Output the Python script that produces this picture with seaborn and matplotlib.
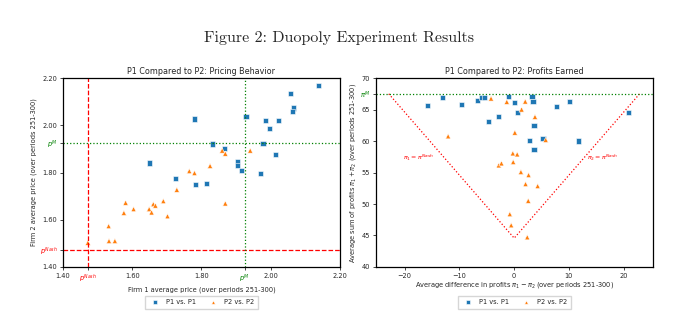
import numpy as np
import pandas as pd
import matplotlib
matplotlib.use("Agg")
import matplotlib.pyplot as plt
import seaborn as sns

# ---- data ----
p_nash = 1.4729
p_mon = 1.9249
pi_nash_sum = 44.58
pi_mon_sum = 67.5

p1p1_price_f1 = [2.138, 2.058, 2.065, 2.063, 2.023, 1.986, 1.996, 1.929, 1.780, 1.978, 2.013,
                 1.832, 1.867, 1.905, 1.905, 1.916, 1.971, 1.650, 1.726, 1.784, 1.815]
p1p1_price_f2 = [2.169, 2.135, 2.073, 2.057, 2.022, 2.022, 1.986, 2.036, 2.027, 1.924, 1.877,
                 1.921, 1.901, 1.846, 1.830, 1.808, 1.795, 1.840, 1.774, 1.750, 1.754]
p2p2_price_f1 = [1.472, 1.532, 1.533, 1.550, 1.576, 1.581, 1.604, 1.649, 1.656, 1.661, 1.667,
                 1.690, 1.702, 1.729, 1.765, 1.780, 1.825, 1.860, 1.869, 1.869, 1.941]
p2p2_price_f2 = [1.503, 1.573, 1.510, 1.510, 1.629, 1.672, 1.645, 1.645, 1.631, 1.666, 1.660,
                 1.679, 1.615, 1.727, 1.806, 1.798, 1.828, 1.893, 1.880, 1.669, 1.893]

p1p1_diff = [-15.87, -13.11, -9.62, -6.68, -5.94, -5.45, -4.72, -2.82, -0.98, 0.0, 0.61,
             3.25, 3.43, 3.61, 2.76, 3.61, 5.27, 7.66, 10.05, 11.76, 20.83]
p1p1_sum = [65.59, 66.87, 65.80, 66.44, 66.92, 66.92, 63.10, 63.84, 67.03, 66.18, 64.53,
            67.08, 66.28, 62.51, 60.07, 58.69, 60.39, 65.43, 66.28, 60.02, 64.48]
p2p2_diff = [-12.07, -4.23, -2.82, -2.33, -1.35, 2.02, 1.35, 3.80, 0.12, -0.25, 0.55,
             -0.18, 1.23, 2.63, 2.08, 4.29, 2.57, -0.80, -0.55, 2.39, 5.76]
p2p2_sum = [60.76, 66.76, 56.14, 56.46, 66.23, 66.28, 65.01, 63.84, 61.34, 58.05, 57.89,
            56.67, 55.08, 54.60, 53.17, 52.85, 50.51, 48.39, 46.63, 44.72, 60.18]

groups = ["P1 vs. P1", "P2 vs. P2"]

df_price = pd.DataFrame({
    "f1": p1p1_price_f1 + p2p2_price_f1,
    "f2": p1p1_price_f2 + p2p2_price_f2,
    "group": [groups[0]] * len(p1p1_price_f1) + [groups[1]] * len(p2p2_price_f1),
})
df_profit = pd.DataFrame({
    "diff": p1p1_diff + p2p2_diff,
    "sum": p1p1_sum + p2p2_sum,
    "group": [groups[0]] * len(p1p1_diff) + [groups[1]] * len(p2p2_diff),
})

sns.set_style("ticks")
plt.rcParams["font.family"] = ["DejaVu Sans"]

fig = plt.figure(figsize=(6.77, 3.24), dpi=100)
ax1 = fig.add_axes([0.093, 0.176, 0.409, 0.583])
ax2 = fig.add_axes([0.555, 0.176, 0.409, 0.583])

palette = {groups[0]: "#1f77b4", groups[1]: "#ff7f0e"}
markers = {groups[0]: "s", groups[1]: "^"}
fs = 4.8

# ---- left: pricing ----
sns.scatterplot(data=df_price, x="f1", y="f2", hue="group", style="group",
                palette=palette, markers=markers, s=14, edgecolor="white",
                linewidth=0.4, ax=ax1)
ax1.axvline(p_nash, color="red", ls="--", lw=0.9)
ax1.axhline(p_nash, color="red", ls="--", lw=0.9)
ax1.axvline(p_mon, color="green", ls=":", lw=0.9)
ax1.axhline(p_mon, color="green", ls=":", lw=0.9)
ax1.set_xlim(1.40, 2.20)
ax1.set_ylim(1.40, 2.20)
ticks = [1.40, p_nash, 1.60, 1.80, p_mon, 2.00, 2.20]
labels = ["1.40", r"$p^{Nash}$", "1.60", "1.80", r"$p^{M}$", "2.00", "2.20"]
ax1.set_xticks(ticks)
ax1.set_xticklabels(labels)
ax1.set_yticks(ticks)
ax1.set_yticklabels(labels)
for tl in (ax1.get_xticklabels()[1], ax1.get_yticklabels()[1]):
    tl.set_color("red")
for tl in (ax1.get_xticklabels()[4], ax1.get_yticklabels()[4]):
    tl.set_color("green")
ax1.set_title("P1 Compared to P2: Pricing Behavior", fontsize=5.8, pad=3)
ax1.set_xlabel("Firm 1 average price (over periods 251-300)", fontsize=fs, labelpad=1)
ax1.set_ylabel("Firm 2 average price (over periods 251-300)", fontsize=fs, labelpad=1.5)

# ---- right: profits ----
sns.scatterplot(data=df_profit, x="diff", y="sum", hue="group", style="group",
                palette=palette, markers=markers, s=14, edgecolor="white",
                linewidth=0.4, ax=ax2)
d_edge = pi_mon_sum - pi_nash_sum
ax2.plot([-d_edge, 0, d_edge], [pi_mon_sum, pi_nash_sum, pi_mon_sum],
         color="red", ls=":", lw=0.9)
ax2.axhline(pi_mon_sum, color="green", ls=":", lw=0.9)
ax2.set_xlim(-25.3, 25.3)
ax2.set_ylim(40, 70)
ax2.set_xticks([-20, -10, 0, 10, 20])
yt = [40, 45, 50, 55, 60, 65, pi_mon_sum, 70]
ax2.set_yticks(yt)
ax2.set_yticklabels(["40", "45", "50", "55", "60", "65", r"$\pi^{M}$", "70"])
ax2.get_yticklabels()[6].set_color("green")
ax2.text(-17.5, 57.4, r"$\pi_1 = \pi^{Nash}$", color="red", fontsize=4.5,
         ha="center", va="center")
ax2.text(16.2, 57.4, r"$\pi_2 = \pi^{Nash}$", color="red", fontsize=4.5,
         ha="center", va="center")
ax2.set_title("P1 Compared to P2: Profits Earned", fontsize=5.8, pad=3)
ax2.set_xlabel(r"Average difference in profits $\pi_1 - \pi_2$ (over periods 251-300)",
               fontsize=fs, labelpad=1)
ax2.set_ylabel(r"Average sum of profits $\pi_1 + \pi_2$ (over periods 251-300)",
               fontsize=fs, labelpad=1.5)

for ax in (ax1, ax2):
    ax.tick_params(labelsize=fs, length=2.5, width=0.6, pad=1.5)
    for sp in ax.spines.values():
        sp.set_linewidth(0.9)
        sp.set_color("black")
    sns.move_legend(ax, "upper center", bbox_to_anchor=(0.5, -0.135), ncol=2,
                    title=None, frameon=True, fontsize=fs, markerscale=0.7,
                    handletextpad=0.6, columnspacing=1.6, borderpad=0.55,
                    fancybox=False, edgecolor="#cccccc")

fig.suptitle("Figure 2: Duopoly Experiment Results", y=0.905, fontsize=11.5,
             family=["cmr10", "DejaVu Serif"])

fig.savefig("out.png", dpi=100)
